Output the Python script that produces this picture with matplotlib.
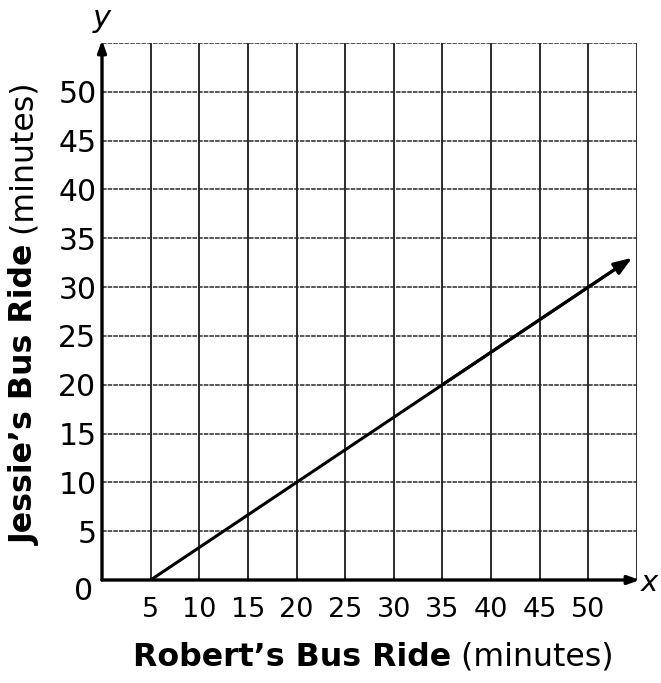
import matplotlib.pyplot as plt

# data
x_ticks = [5, 10, 15, 20, 25, 30, 35, 40, 45, 50]
y_ticks = [5, 10, 15, 20, 25, 30, 35, 40, 45, 50]
grid_vals = [5, 10, 15, 20, 25, 30, 35, 40, 45, 50, 55]
axis_max = 55

# line: Robert (x) vs Jessie (y); last point is the arrow tip
robert = [5, 20, 35, 50, 54.5]
jessie = [0, 10, 20, 30, 33]

W, H = 661, 683
fig = plt.figure(figsize=(W / 100, H / 100), dpi=100)
ax = fig.add_axes([102 / W, 1 - 580 / H, 535 / W, 537 / H])
ax.set_xlim(0, axis_max)
ax.set_ylim(0, axis_max)
for s in ax.spines.values():
    s.set_visible(False)

# grid
ax.vlines(grid_vals, 0, axis_max, color="#1a1a1a", lw=1.3, zorder=1)
ax.hlines(grid_vals, 0, axis_max, color="#2a2a2a", lw=1.1,
          linestyles=(0, (3, 0.7)), zorder=1)

# axes with arrow heads
ax.annotate("", xy=(axis_max + 0.3, 0), xytext=(0, 0),
            arrowprops=dict(arrowstyle="-|>,head_length=0.7,head_width=0.25",
                            lw=2.4, color="black", shrinkA=0, shrinkB=0),
            annotation_clip=False, zorder=3)
ax.annotate("", xy=(0, axis_max + 0.3), xytext=(0, 0),
            arrowprops=dict(arrowstyle="-|>,head_length=0.7,head_width=0.25",
                            lw=2.4, color="black", shrinkA=0, shrinkB=0),
            annotation_clip=False, zorder=3)

# the line
ax.plot(robert[:-1] + [robert[-2] + 0.9 * (robert[-1] - robert[-2])],
        jessie[:-1] + [jessie[-2] + 0.9 * (jessie[-1] - jessie[-2])],
        color="black", lw=2.2, zorder=4, solid_capstyle="butt")
ax.annotate("", xy=(robert[-1], jessie[-1]), xytext=(robert[-3], jessie[-3]),
            arrowprops=dict(arrowstyle="-|>,head_length=1.1,head_width=0.4",
                            lw=2.2, color="black", shrinkA=0, shrinkB=0),
            annotation_clip=False, zorder=4)

# ticks
ax.set_xticks(x_ticks)
ax.set_xticklabels([str(v) for v in x_ticks], fontsize=19.5)
ax.set_yticks(y_ticks)
ax.set_yticklabels([str(v) for v in y_ticks], fontsize=21.5)
ax.tick_params(axis="x", length=0, pad=12)
ax.tick_params(axis="y", length=0, pad=4)
ax.text(-1.9, -1.2, "0", fontsize=21.5, ha="center", va="center")

# axis letters
ax.text(0, axis_max + 2.5, "y", fontsize=22, style="italic",
        ha="center", va="center")
ax.text(axis_max + 1.3, -0.3, "x", fontsize=21, style="italic",
        ha="center", va="center")

# axis titles: bold part + regular "(minutes)"
xl = fig.text(133 / W, 1 - 666 / H, "Robert\u2019s Bus Ride", fontsize=22.8,
              fontweight="bold", ha="left", va="baseline")
ax.annotate(" (minutes)", xy=(1, 0), xycoords=xl, fontsize=22.8,
            ha="left", va="bottom")

yl = fig.text(25 / W, 1 - 545 / H, "Jessie\u2019s Bus Ride", fontsize=22.8,
              fontweight="bold", rotation=90, ha="center", va="bottom")
ax.annotate(" (minutes)", xy=(0, 1), xycoords=yl, fontsize=22.8,
            rotation=90, ha="left", va="bottom")

fig.savefig("out.png", dpi=100)
